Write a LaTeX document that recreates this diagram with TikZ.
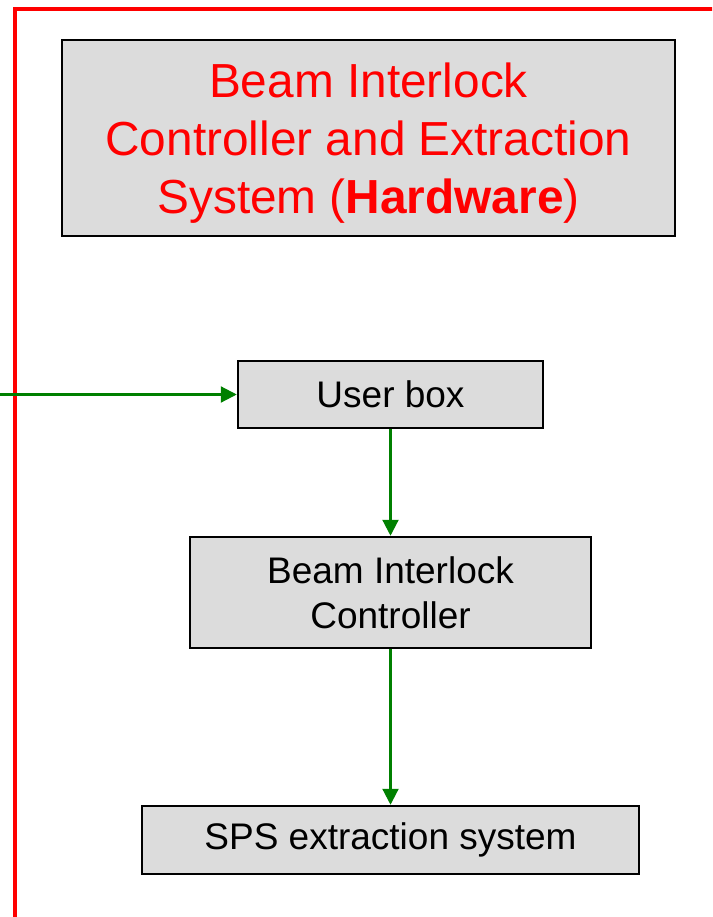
\documentclass[tikz,border=0pt]{standalone}
\usepackage{fontspec}
\setmainfont{Liberation Sans}
\usetikzlibrary{arrows.meta}
\definecolor{boxgrey}{HTML}{DCDCDC}
\definecolor{flowgreen}{HTML}{008000}
\definecolor{framered}{HTML}{FF0000}
\tikzset{
  blockbox/.style={draw=black, line width=2.5pt, fill=boxgrey, rectangle, inner sep=0pt,
    align=center, font=\fontsize{37}{45}\selectfont},
  flow/.style={draw=flowgreen, line width=2.2pt, -{Triangle[length=16pt,width=16pt]}}
}
\begin{document}
\begin{tikzpicture}[x=1pt,y=-1pt]
  \useasboundingbox (0,0) rectangle (712,917);
  \clip (0,0) rectangle (712,917);
  % outer frame, running off the right and bottom edges
  \draw[framered, line width=4pt] (15,9) rectangle (760,960);
  % title block
  \node[blockbox, minimum width=613pt, minimum height=196pt] (title) at (368.5,138) {};
  \node[align=center, inner sep=0pt, font=\fontsize{47.8}{58}\selectfont, text=framered]
    (titletext) at (368.5,143)
    {Beam Interlock\\Controller and Extraction\\System (\textbf{Hardware})};
  % chain of hardware blocks
  \node[blockbox, minimum width=305pt, minimum height=67pt] (user) at (390.5,394.5) {User box};
  \node[blockbox, minimum width=401pt, minimum height=111pt] (bic) at (390.5,592.5)
    {Beam Interlock\\Controller};
  \node[blockbox, minimum width=497pt, minimum height=68pt] (sps) at (390.5,840)
    {SPS extraction system};
  % incoming signal from the left
  \coordinate (src) at (0,394.5);
  \draw[flow] (src) -- (user.west);
  \draw[flow] (user.south) -- (bic.north);
  \draw[flow] (bic.south) -- (sps.north);
\end{tikzpicture}
\end{document}
